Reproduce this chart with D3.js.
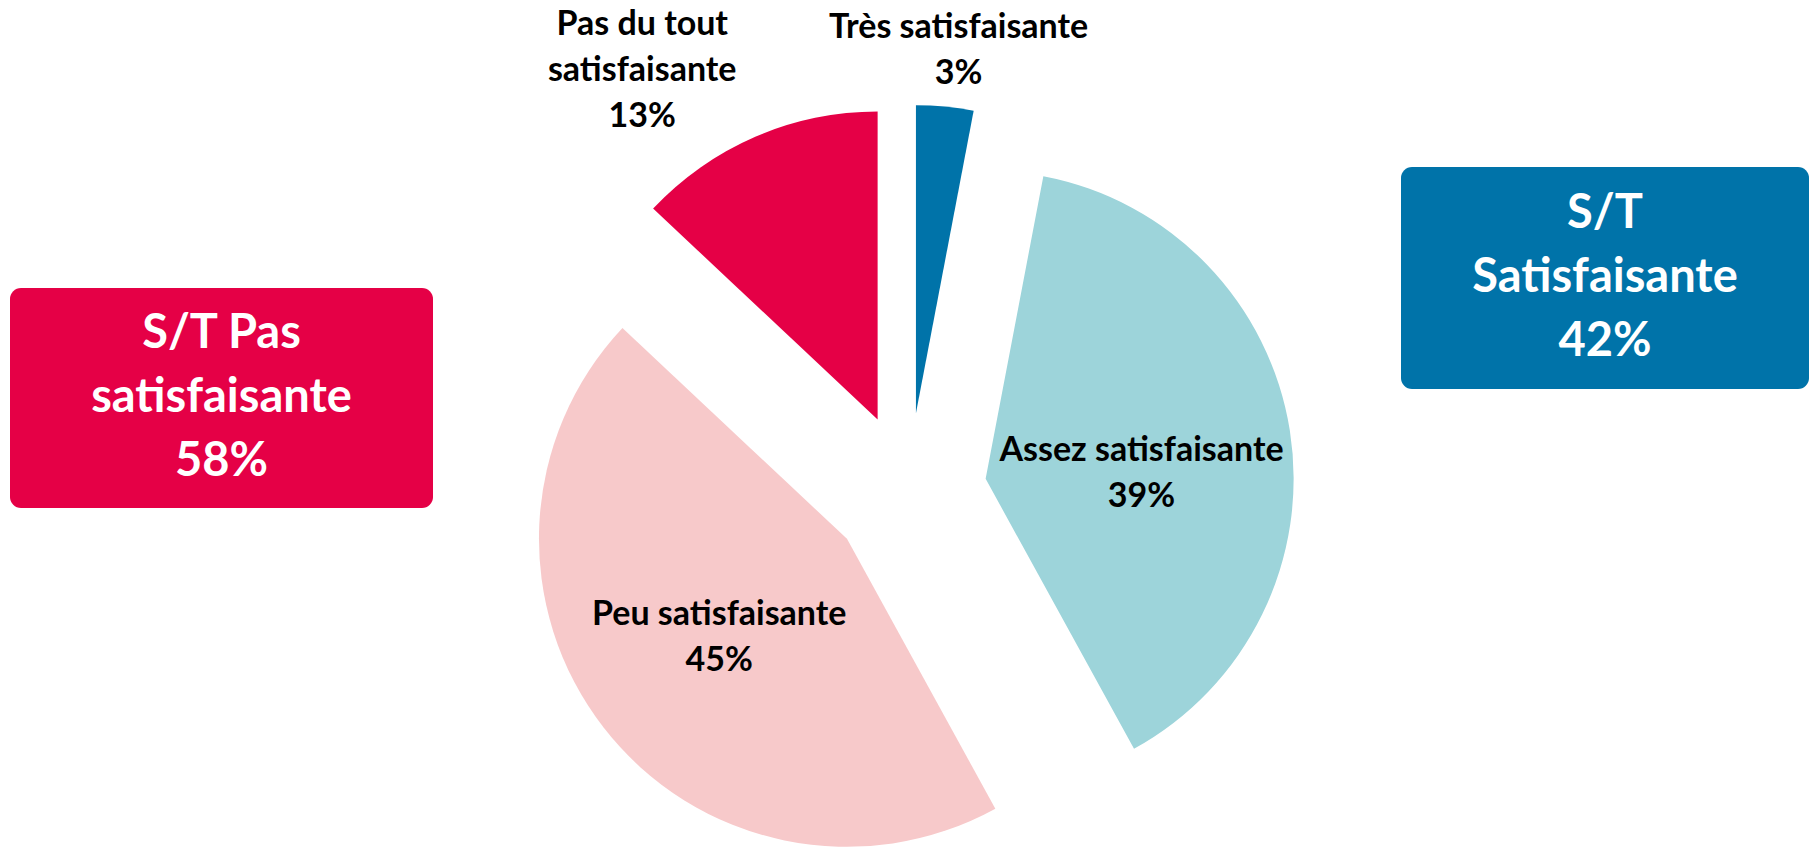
<!DOCTYPE html>
<html>
<head>
<meta charset="utf-8">
<script src="https://cdn.jsdelivr.net/npm/d3@7"></script>
<style>
  html, body { margin: 0; padding: 0; background: #ffffff; }
  svg { display: block; }
  text { font-family: Lato, "Noto Sans", sans-serif; font-weight: 700; }
</style>
</head>
<body>
<svg id="chart" width="1814" height="848"></svg>
<script>
// ---- data ----
const categories = ["Très satisfaisante", "Assez satisfaisante", "Peu satisfaisante", "Pas du tout satisfaisante"];
const values = [3, 39, 45, 13];
const labelLines = [["Très satisfaisante"], ["Assez satisfaisante"], ["Peu satisfaisante"], ["Pas du tout", "satisfaisante"]];
const colors = ["#0073A9", "#9DD4DA", "#F7C9CA", "#E50046"];

const summaryTitles = [["S/T Pas", "satisfaisante"], ["S/T", "Satisfaisante"]];
const summaryValues = [58, 42];
const summaryColors = ["#E50046", "#0073A9"];

// ---- layout ----
const W = 1814, H = 848;
const cx = 908.6, cy = 491;
const R = 308;
const explode = 78;
// label placement relative to each exploded slice apex: [angle in degrees, radius]
const labelPlacement = [[6.7, 366], [88, 156], [232.5, 161], [326, 421]];
const labelFont = 34, labelLH = 46;
const boxes = [
  { x: 10, y: 288, w: 423, h: 220 },
  { x: 1401, y: 167, w: 408, h: 222 }
];
const boxFont = 47, boxLH = 64;

const svg = d3.select("#chart");

const pie = d3.pie().sort(null).value(d => d).startAngle(0).endAngle(2 * Math.PI);
const arcs = pie(values);
const arcGen = d3.arc().innerRadius(0).outerRadius(R);

const g = svg.append("g").attr("transform", `translate(${cx},${cy})`);

const slices = g.selectAll("g.slice")
  .data(arcs)
  .join("g")
  .attr("class", "slice")
  .attr("transform", d => {
    const mid = (d.startAngle + d.endAngle) / 2;
    const [ox, oy] = d3.pointRadial(mid, explode);
    return `translate(${ox},${oy})`;
  });

slices.append("path")
  .attr("d", arcGen)
  .attr("fill", (d, i) => colors[i]);

// slice labels
slices.each(function(d, i) {
  const [ang, rr] = labelPlacement[i];
  const [lx, ly] = d3.pointRadial(ang * Math.PI / 180, rr);
  const lines = labelLines[i].concat([values[i] + "%"]);
  const n = lines.length;
  const t = d3.select(this).append("text")
    .attr("text-anchor", "middle")
    .attr("font-size", labelFont)
    .attr("fill", "#000000");
  lines.forEach((s, k) => {
    t.append("tspan")
      .attr("x", lx)
      .attr("y", ly + (k - (n - 1) / 2) * labelLH + 11)
      .text(s);
  });
});

// summary boxes
boxes.forEach((b, i) => {
  svg.append("rect")
    .attr("x", b.x).attr("y", b.y)
    .attr("width", b.w).attr("height", b.h)
    .attr("rx", 11).attr("ry", 11)
    .attr("fill", summaryColors[i]);
  const lines = summaryTitles[i].concat([summaryValues[i] + "%"]);
  const n = lines.length;
  const t = svg.append("text")
    .attr("text-anchor", "middle")
    .attr("font-size", boxFont)
    .attr("fill", "#ffffff");
  const bx = b.x + b.w / 2, by = b.y + b.h / 2;
  lines.forEach((s, k) => {
    t.append("tspan")
      .attr("x", bx)
      .attr("y", by + (k - (n - 1) / 2) * boxLH + 14)
      .text(s);
  });
});
</script>
</body>
</html>
